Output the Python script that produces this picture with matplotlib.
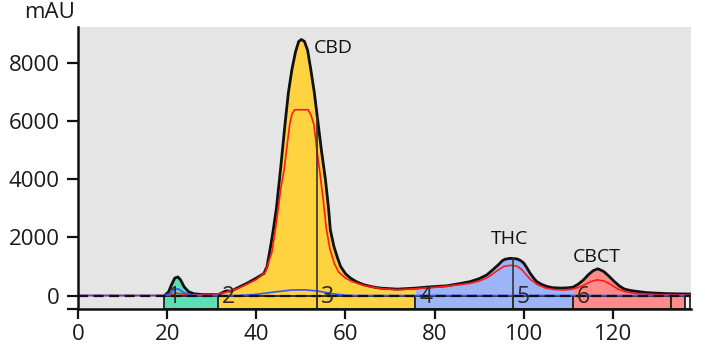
import matplotlib
matplotlib.use("Agg")
import matplotlib.pyplot as plt
import numpy as np

plt.rcParams['font.family'] = ['Open Sans', 'DejaVu Sans']

# ---- data ----
black_x = [19.4, 20.3, 21.0, 21.7, 22.4, 23.0, 23.8, 24.8, 26.0, 28.0, 31.5, 32.5, 33.3, 34.3, 36.0, 38.0, 40.0,
           41.7, 42.4, 43.2, 43.8, 44.5, 45.4, 46.5, 47.2, 48.0, 48.8, 49.5, 50.1, 50.8, 51.5, 52.2, 53.0,
           53.8, 54.6, 55.5, 56.2, 56.6, 57.4, 58.2, 58.9, 60.0, 61.1, 62.5, 64.1, 66.0, 67.8, 71.6, 75.3,
           78.3, 82.8, 86.0, 88.0, 90.0, 91.7, 93.0, 94.3, 95.2, 95.8, 97.0, 98.5, 99.3, 100.0, 100.7,
           101.4, 102.2, 102.9, 104.0, 105.2, 106.5, 108.2, 110.0, 111.1, 112.3, 113.4, 114.5, 115.6,
           116.6, 117.9, 119.0, 120.3, 121.5, 122.6, 124.0, 125.4, 127.5, 129.8, 132.0, 135.0, 137.3]
black_y = [0, 120, 380, 600, 640, 540, 300, 130, 60, 30, 30, 110, 160, 150, 280, 430, 600,
           760, 1000, 1690, 2260, 3000, 4300, 6000, 7000, 7800, 8400, 8750, 8820, 8750, 8450, 7800, 7000,
           6000, 5000, 4000, 3000, 2260, 1690, 1300, 1000, 750, 600, 470, 370, 300, 255, 220, 250,
           290, 335, 420, 480, 580, 710, 880, 1060, 1200, 1250, 1280, 1260, 1200, 1115, 950,
           770, 600, 480, 380, 310, 270, 255, 265, 290, 400, 540, 720, 860,
           920, 830, 680, 480, 320, 220, 170, 140, 100, 80, 65, 55, 50]

red_x = [0, 19.0, 20.5, 22.0, 23.5, 25.0, 30.0, 33.0, 36.0, 40.0, 42.0, 43.5, 44.5, 45.5, 46.2, 47.0, 47.5,
         48.0, 48.6, 51.6, 52.3, 52.9, 53.6, 54.2, 55.0, 55.7, 56.5, 57.5, 58.5, 60.0, 61.5, 64.0, 67.8,
         71.6, 75.3, 80.0, 85.0, 88.0, 90.0, 92.0, 94.0, 95.5, 97.0, 98.5, 99.5, 100.5, 101.5, 103.0,
         105.0, 107.0, 109.0, 111.0, 113.0, 115.0, 116.5, 118.0, 119.5, 121.0, 122.5, 125.0, 130.0, 137.3]
red_y = [0, 0, 20, 80, 50, 30, 20, 100, 250, 550, 800, 1500, 2500, 3700, 4300, 5300, 5900,
         6250, 6400, 6400, 6200, 5900, 5000, 4300, 3300, 2300, 1600, 1100, 800, 600, 480, 350, 240,
         200, 230, 280, 360, 420, 500, 630, 850, 1000, 1040, 1010, 900, 720, 550, 380,
         250, 200, 190, 220, 320, 480, 540, 500, 380, 230, 140, 70, 30, 20]

blue_x = [0, 19.0, 20.5, 21.5, 22.5, 23.5, 25.0, 27.0, 36.0, 40.0, 44.0, 48.0, 51.0, 54.0, 57.0, 60.0, 62.0, 137.3]
blue_y = [0, 0, 50, 200, 230, 120, 20, 0, 0, 40, 120, 190, 195, 150, 60, 10, 0, 0]

frac_edges = [19.4, 31.5, 53.7, 75.7, 97.6, 111.1, 133.0, 136.2, 137.3]
frac_colors = ['#5DDEB3', '#FFD23F', '#FFD23F', '#9DB4F8', '#9DB4F8', '#FF8C8A', '#FF8C8A', '#F4F4F4']
frac_labels = ['1', '2', '3', '4', '5', '6', '', '']
marker_lines = [53.7, 97.6]

peak_names = ['CBD', 'THC', 'CBCT']
peak_x = [57.3, 96.8, 116.4]
peak_y = [8540, 1950, 1340]

xticks = [0, 20, 40, 60, 80, 100, 120]
yticks = [0, 2000, 4000, 6000, 8000]

# ---- figure ----
fig = plt.figure(figsize=(7.05, 3.49), dpi=100)
ax = fig.add_axes([78 / 705, 40 / 349, (691 - 78) / 705, (309 - 27) / 349])
ax.set_facecolor('#E5E5E5')
ymin = -465
ax.set_xlim(0, 137.5)
ax.set_ylim(ymin, 9250)

bx = np.array(black_x, float)
by = np.array(black_y, float)

# fraction fills under the black trace and the fraction strip below 0
for i in range(len(frac_edges) - 1):
    a, b = frac_edges[i], frac_edges[i + 1]
    inside = (bx > a) & (bx < b)
    sx = np.concatenate([[a], bx[inside], [b]])
    sy = np.concatenate([[np.interp(a, bx, by)], by[inside], [np.interp(b, bx, by)]])
    ax.fill_between(sx, 0, sy, color=frac_colors[i], lw=0, zorder=1)
    ax.add_patch(plt.Rectangle((a, ymin), b - a, -ymin, facecolor=frac_colors[i],
                               edgecolor='#222222', lw=1.3, zorder=2))
    if frac_labels[i]:
        ax.text(a + 2.3, -50, frac_labels[i], ha='center', va='center', fontsize=16.5,
                color='#2a2a2a', zorder=8)

for m in marker_lines:
    ax.plot([m, m], [ymin, np.interp(m, bx, by)], color='#333333', lw=1.2, zorder=6)

ax.plot(black_x, black_y, color='#111111', lw=2.0, zorder=4, solid_joinstyle='round')
ax.plot(red_x, red_y, color='#FF1A1A', lw=1.2, zorder=5)
ax.plot(blue_x, blue_y, color='#3355FF', lw=1.2, zorder=5)
ax.axhline(0, color='#111111', lw=1.6, ls=(0, (4.5, 2.5)), zorder=5.5)

for n, px, py in zip(peak_names, peak_x, peak_y):
    ax.text(px, py, n, ha='center', va='center', fontsize=14, color='#111111', zorder=9)

ax.set_xticks(xticks)
ax.set_yticks(yticks)
ax.set_yticks([ymin], minor=True)
ax.tick_params(axis='both', which='both', labelsize=16, width=1.6, color='#111111', labelcolor='#1a1a1a')
ax.tick_params(axis='y', which='both', length=8, pad=5)
ax.tick_params(axis='x', length=7, pad=4)
for s in ['top', 'right']:
    ax.spines[s].set_visible(False)
for s in ['left', 'bottom']:
    ax.spines[s].set_linewidth(1.8)
    ax.spines[s].set_color('#111111')
    ax.spines[s].set_zorder(10)

fig.text(50 / 705, 1 - 12 / 349, 'mAU', ha='center', va='center', fontsize=16, color='#1a1a1a')

fig.savefig('out.png', dpi=100, facecolor='white')
